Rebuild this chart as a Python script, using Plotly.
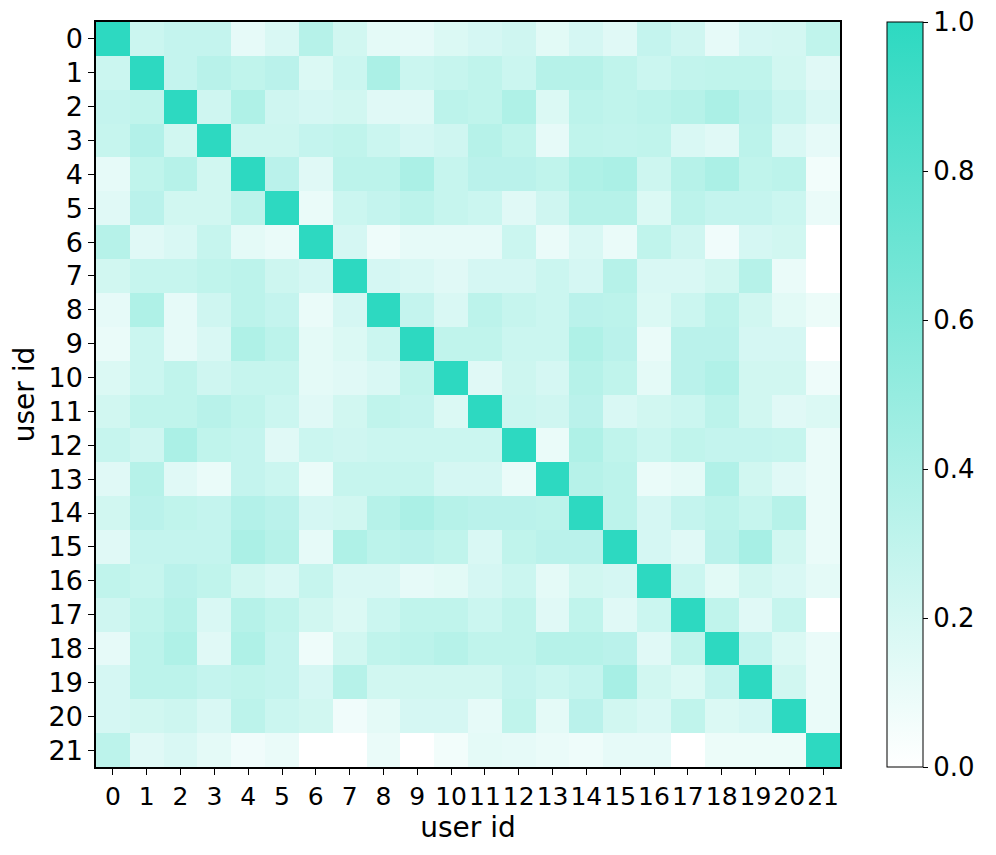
import plotly.graph_objects as go

user_ids = list(range(22))
tick_labels = [str(i) for i in user_ids]

similarity = [
    [1.00,0.25,0.28,0.28,0.12,0.18,0.35,0.22,0.13,0.12,0.17,0.20,0.23,0.14,0.20,0.15,0.28,0.23,0.12,0.20,0.21,0.30],
    [0.25,1.00,0.28,0.34,0.30,0.33,0.17,0.25,0.40,0.25,0.27,0.30,0.25,0.35,0.35,0.30,0.25,0.29,0.30,0.30,0.22,0.15],
    [0.28,0.30,1.00,0.23,0.38,0.23,0.20,0.22,0.15,0.15,0.32,0.30,0.38,0.17,0.32,0.30,0.32,0.35,0.40,0.33,0.26,0.18],
    [0.27,0.36,0.22,1.00,0.24,0.24,0.28,0.30,0.25,0.20,0.23,0.35,0.30,0.12,0.30,0.29,0.30,0.18,0.15,0.32,0.18,0.12],
    [0.12,0.30,0.35,0.22,1.00,0.33,0.15,0.32,0.32,0.40,0.27,0.33,0.33,0.30,0.38,0.40,0.24,0.35,0.40,0.30,0.32,0.06],
    [0.15,0.33,0.22,0.22,0.32,1.00,0.10,0.25,0.28,0.32,0.27,0.25,0.15,0.23,0.35,0.35,0.17,0.32,0.28,0.28,0.25,0.10],
    [0.35,0.15,0.18,0.27,0.13,0.10,1.00,0.20,0.08,0.12,0.12,0.12,0.25,0.10,0.18,0.10,0.30,0.23,0.07,0.20,0.22,0.00],
    [0.22,0.27,0.27,0.30,0.32,0.24,0.20,1.00,0.20,0.18,0.15,0.20,0.20,0.25,0.20,0.35,0.18,0.18,0.22,0.35,0.10,0.00],
    [0.12,0.38,0.12,0.23,0.32,0.28,0.10,0.20,1.00,0.28,0.18,0.32,0.27,0.25,0.33,0.32,0.17,0.25,0.32,0.22,0.14,0.09],
    [0.10,0.25,0.12,0.18,0.38,0.32,0.13,0.17,0.25,1.00,0.30,0.30,0.25,0.25,0.38,0.33,0.10,0.33,0.33,0.20,0.20,0.00],
    [0.17,0.25,0.30,0.23,0.27,0.27,0.13,0.15,0.18,0.30,1.00,0.15,0.24,0.20,0.35,0.30,0.13,0.33,0.37,0.22,0.22,0.08],
    [0.22,0.30,0.30,0.34,0.30,0.25,0.15,0.22,0.30,0.28,0.17,1.00,0.25,0.23,0.33,0.18,0.22,0.25,0.32,0.22,0.15,0.17],
    [0.27,0.23,0.40,0.30,0.28,0.15,0.25,0.23,0.25,0.25,0.25,0.25,1.00,0.10,0.38,0.30,0.25,0.30,0.28,0.28,0.27,0.10],
    [0.15,0.35,0.15,0.10,0.28,0.25,0.10,0.27,0.27,0.27,0.20,0.20,0.10,1.00,0.35,0.32,0.10,0.13,0.37,0.22,0.15,0.10],
    [0.22,0.33,0.30,0.28,0.36,0.33,0.20,0.22,0.35,0.40,0.35,0.33,0.33,0.32,1.00,0.32,0.20,0.28,0.32,0.27,0.35,0.10],
    [0.15,0.28,0.28,0.28,0.40,0.35,0.12,0.38,0.32,0.33,0.30,0.18,0.30,0.33,0.33,1.00,0.20,0.15,0.33,0.42,0.22,0.10],
    [0.30,0.27,0.33,0.30,0.22,0.18,0.27,0.18,0.18,0.12,0.14,0.20,0.25,0.13,0.22,0.20,1.00,0.25,0.14,0.22,0.18,0.13],
    [0.23,0.30,0.35,0.18,0.35,0.30,0.22,0.17,0.25,0.30,0.30,0.25,0.30,0.15,0.30,0.15,0.25,1.00,0.30,0.15,0.27,0.00],
    [0.12,0.32,0.38,0.15,0.38,0.28,0.08,0.22,0.30,0.32,0.35,0.30,0.30,0.35,0.35,0.33,0.15,0.30,1.00,0.28,0.17,0.10],
    [0.20,0.32,0.32,0.28,0.30,0.28,0.20,0.35,0.22,0.22,0.22,0.22,0.28,0.25,0.28,0.42,0.22,0.17,0.28,1.00,0.22,0.10],
    [0.20,0.22,0.24,0.18,0.32,0.25,0.22,0.07,0.13,0.20,0.20,0.12,0.30,0.13,0.33,0.22,0.18,0.30,0.17,0.20,1.00,0.10],
    [0.32,0.15,0.18,0.13,0.07,0.10,0.00,0.00,0.10,0.00,0.06,0.13,0.12,0.10,0.08,0.12,0.12,0.00,0.09,0.09,0.09,1.00],
]

font_family = "DejaVu Sans"

fig = go.Figure(go.Heatmap(
    z=similarity,
    x=user_ids,
    y=user_ids,
    zmin=0, zmax=1,
    colorscale=[[0, "#ffffff"], [1, "#2DD9C1"]],
    showscale=True,
    colorbar=dict(
        x=1.063, xanchor="left", xref="paper",
        y=0.5, yanchor="middle", len=1.0, lenmode="fraction",
        thickness=36, thicknessmode="pixels",
        outlinewidth=1, outlinecolor="black",
        ticks="outside", ticklen=5, tickcolor="black",
        tickvals=[0, 0.2, 0.4, 0.6, 0.8, 1.0],
        ticktext=["0.0", "0.2", "0.4", "0.6", "0.8", "1.0"],
        tickfont=dict(family=font_family, size=26, color="black"),
        ticklabeloverflow="allow",
        xpad=0, ypad=0,
    ),
))

# The browser page adds an 8px body margin, so the figure is sized 8px smaller.
fig.update_layout(
    width=988, height=847,
    margin=dict(l=88, r=156, t=14, b=88, autoexpand=False),
    paper_bgcolor="white", plot_bgcolor="white",
    font=dict(family=font_family, color="black"),
)
fig.update_xaxes(
    tickvals=user_ids, ticktext=tick_labels, tickangle=0,
    ticks="outside", ticklen=6, tickcolor="black",
    tickfont=dict(size=25),
    showline=True, linecolor="black", linewidth=1.5, mirror=True,
    showgrid=False, zeroline=False, automargin=False,
    range=[-0.5, 21.5],
    title=dict(text="user id", font=dict(size=28), standoff=4),
)
fig.update_yaxes(
    tickvals=user_ids, ticktext=tick_labels,
    ticks="outside", ticklen=6, tickcolor="black",
    tickfont=dict(size=27),
    showline=True, linecolor="black", linewidth=1.5, mirror=True,
    showgrid=False, zeroline=False, automargin=False,
    range=[21.5, -0.5],
    title=dict(text="user id", font=dict(size=28), standoff=13),
)

fig.write_html("out.html")
